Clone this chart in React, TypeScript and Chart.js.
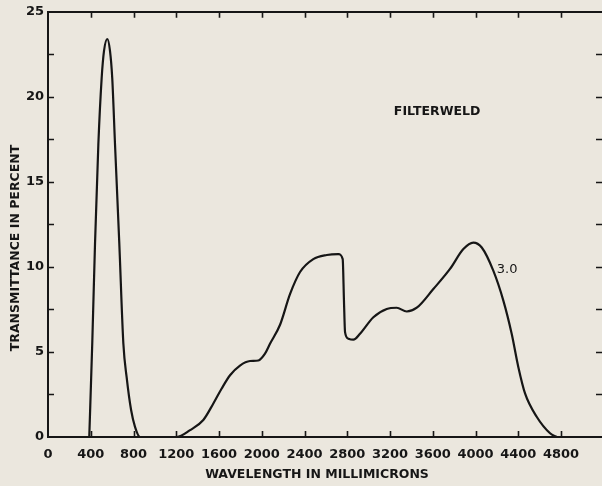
import { useEffect, useRef } from "react";
import { Chart, registerables } from "chart.js";

Chart.register(...registerables);

// Wavelength (millimicrons) and transmittance (%)
const wavelength = [
  386, 414, 440, 471, 502, 524, 555, 580, 601, 627, 667, 705, 736, 777, 814, 861,
  1204, 1329, 1453, 1547, 1625, 1703, 1796, 1890, 1968, 2030, 2077, 2171, 2264, 2358,
  2482, 2608, 2716, 2757, 2769, 2779, 2810, 2857, 2919, 3044, 3169, 3262, 3356, 3450,
  3605, 3761, 3886, 3979, 4058, 4166, 4260, 4338, 4400, 4463, 4572, 4697, 4760,
];
const transmittance = [
  0, 5.5, 11.4, 17.2, 21.1, 22.7, 23.4, 22.7, 21.1, 17.2, 11.4, 5.5, 3.5, 1.6, 0.6, 0,
  0, 0.4, 1.0, 1.97, 2.85, 3.63, 4.2, 4.47, 4.5, 4.9, 5.48, 6.6, 8.4, 9.7,
  10.46, 10.7, 10.75, 10.46, 8.0, 6.17, 5.78, 5.72, 6.07, 7.04, 7.53, 7.6, 7.38, 7.6,
  8.7, 9.88, 11.05, 11.43, 11.14, 9.78, 8.02, 6.07, 4.12, 2.56, 1.19, 0.22, 0,
];

const xTickValues = [0, 400, 800, 1200, 1600, 2000, 2400, 2800, 3200, 3600, 4000, 4400, 4800];
const yTickValues = [0, 5, 10, 15, 20, 25];
const yTickMarks = [2.5, 5, 7.5, 10, 12.5, 15, 17.5, 20, 22.5];

const xTitle = "WAVELENGTH IN MILLIMICRONS";
const yTitle = "TRANSMITTANCE IN PERCENT";
const filterName = "FILTERWELD";
const curveLabel = "3.0";

const INK = "#161616";
const BG = "#ebe7de";
const FONT = "DejaVu Sans";

const decor = {
  id: "decor",
  beforeDraw(chart: any) {
    const { ctx, width, height } = chart;
    ctx.save();
    ctx.fillStyle = BG;
    ctx.fillRect(0, 0, width, height);
    ctx.restore();
  },
  afterDraw(chart: any) {
    const { ctx, chartArea: a, scales } = chart;
    const x = scales.x;
    const y = scales.y;
    ctx.save();
    ctx.strokeStyle = INK;
    ctx.lineWidth = 1.6;
    ctx.beginPath();
    for (const v of xTickValues) {
      if (v === 0) continue;
      const px = Math.round(x.getPixelForValue(v)) + 0.5;
      ctx.moveTo(px, a.bottom);
      ctx.lineTo(px, a.bottom - 6);
      ctx.moveTo(px, a.top);
      ctx.lineTo(px, a.top + 6);
    }
    for (const v of yTickMarks) {
      const py = Math.round(y.getPixelForValue(v)) + 0.5;
      ctx.moveTo(a.left, py);
      ctx.lineTo(a.left + 6, py);
      ctx.moveTo(a.right, py);
      ctx.lineTo(a.right - 6, py);
    }
    ctx.stroke();

    ctx.fillStyle = INK;
    ctx.textAlign = "center";
    ctx.textBaseline = "middle";
    ctx.font = `bold 12.5px ${FONT}`;
    ctx.fillText(xTitle, 317, 475);
    ctx.save();
    ctx.translate(16, 248);
    ctx.rotate(-Math.PI / 2);
    ctx.fillText(yTitle, 0, 0);
    ctx.restore();

    ctx.font = `bold 12.5px ${FONT}`;
    ctx.fillText(filterName, x.getPixelForValue(3640), y.getPixelForValue(19.15));
    ctx.font = `13px ${FONT}`;
    ctx.fillText(curveLabel, x.getPixelForValue(4295), y.getPixelForValue(9.84));
    ctx.restore();
  },
};

export default function App() {
  const ref = useRef<HTMLCanvasElement | null>(null);

  useEffect(() => {
    if (!ref.current) return;
    const points = wavelength.map((w, i) => ({ x: w, y: transmittance[i] }));
    const tickFont = { family: FONT, size: 13, weight: "bold" as const };
    const chart = new Chart(ref.current, {
      type: "line",
      data: {
        datasets: [
          {
            data: points,
            borderColor: INK,
            borderWidth: 2.2,
            pointRadius: 0,
            fill: false,
            cubicInterpolationMode: "monotone",
          },
        ],
      },
      options: {
        animation: false,
        responsive: false,
        maintainAspectRatio: false,
        layout: { padding: 0 },
        plugins: { legend: { display: false }, tooltip: { enabled: false }, title: { display: false } },
        scales: {
          x: {
            type: "linear",
            position: "bottom",
            min: 0,
            max: 5183,
            afterBuildTicks: (s: any) => {
              s.ticks = xTickValues.map((v) => ({ value: v }));
            },
            afterFit: (s: any) => {
              s.height = 49;
            },
            grid: { display: false, drawTicks: false },
            border: { display: true, color: INK, width: 2 },
            ticks: {
              autoSkip: false,
              maxRotation: 0,
              color: INK,
              font: tickFont,
              padding: 10,
              callback: (v: any) => String(v),
            },
          },
          xTop: {
            type: "linear",
            position: "top",
            min: 0,
            max: 5183,
            afterFit: (s: any) => {
              s.height = 10;
            },
            grid: { display: false, drawTicks: false },
            border: { display: true, color: INK, width: 2 },
            ticks: { display: false },
          },
          y: {
            type: "linear",
            min: 0,
            max: 25,
            afterBuildTicks: (s: any) => {
              s.ticks = yTickValues.map((v) => ({ value: v }));
            },
            afterFit: (s: any) => {
              s.width = 48;
            },
            grid: { display: false, drawTicks: false },
            border: { display: true, color: INK, width: 2 },
            ticks: { color: INK, font: tickFont, padding: 4, callback: (v: any) => String(v) },
          },
        },
      },
      plugins: [decor],
    });
    return () => chart.destroy();
  }, []);

  return (
    <div style={{ position: "fixed", left: 0, top: 0, width: 602, height: 486, background: BG, overflow: "hidden" }}>
      <canvas ref={ref} width={602} height={486} style={{ display: "block" }} />
    </div>
  );
}
